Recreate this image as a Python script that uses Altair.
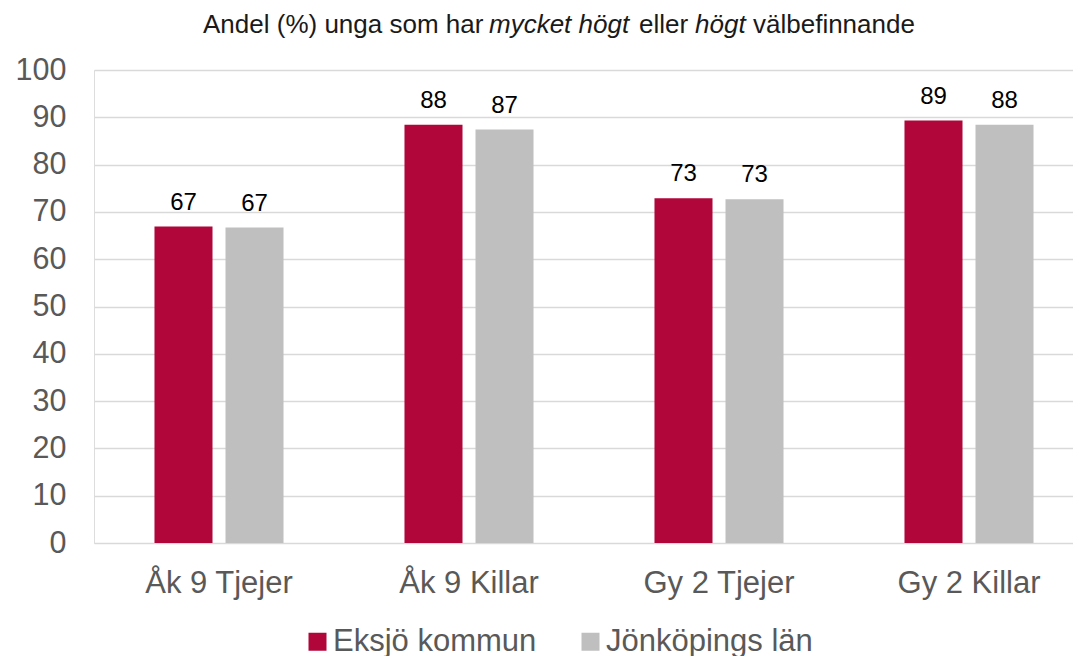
import altair as alt
import pandas as pd

# ---- data ----
categories = ["Åk 9 Tjejer", "Åk 9 Killar", "Gy 2 Tjejer", "Gy 2 Killar"]
series = ["Eksjö kommun", "Jönköpings län"]
eksjo = [66.9, 88.4, 72.9, 89.3]
jonkoping = [66.7, 87.4, 72.7, 88.4]
colors = ["#B0063A", "#BFBFBF"]
y_ticks = [0, 10, 20, 30, 40, 50, 60, 70, 80, 90, 100]

title_words = ["Andel (%) unga som har", "mycket högt", "eller", "högt", "välbefinnande"]
title_styles = ["normal", "italic", "normal", "italic", "normal"]
title_x = [109, 395, 545, 601, 659]

FONT = "Liberation Sans"

df = pd.DataFrame({
    "kategori": [c for c in categories for _ in series],
    "serie": series * len(categories),
    "varde": [v for pair in zip(eksjo, jonkoping) for v in pair],
})

x = alt.X(
    "kategori:N", sort=categories, title=None,
    scale=alt.Scale(paddingInner=0.168, paddingOuter=0.042, align=1),
    axis=alt.Axis(labelAngle=0, labelFont=FONT, labelFontSize=31, labelColor="#595959",
                  labelPadding=25, ticks=False, tickSize=0, domain=False, grid=False),
)
xo = alt.XOffset("serie:N", sort=series, scale=alt.Scale(paddingInner=0.183, paddingOuter=0.556))
y = alt.Y(
    "varde:Q", title=None,
    scale=alt.Scale(domain=[0, 100], nice=False),
    axis=alt.Axis(values=y_ticks, labelFont=FONT, labelFontSize=30.5, labelColor="#595959",
                  labelPadding=28, ticks=False, tickSize=0, domain=False,
                  gridColor="#d9d9d9", gridWidth=1.5),
)
color = alt.Color(
    "serie:N", sort=series,
    scale=alt.Scale(domain=series, range=colors),
    legend=alt.Legend(title=None, orient="none", legendX=208, legendY=556,
                      direction="horizontal", symbolType="square", symbolSize=324,
                      symbolStrokeWidth=0, labelFont=FONT, labelFontSize=31,
                      labelColor="#595959", labelOffset=0, columnPadding=38,
                      padding=0, labelLimit=500),
)

base = alt.Chart(df)
bars = base.mark_bar().encode(x=x, xOffset=xo, y=y, color=color)
labels = base.mark_text(dy=-17, baseline="alphabetic", font=FONT, fontSize=24, color="#000000").encode(
    x=x, xOffset=xo, y=y, text=alt.Text("varde:Q", format=".0f")
)

title_layers = []
for word, style, px in zip(title_words, title_styles, title_x):
    title_layers.append(
        alt.Chart(pd.DataFrame({"t": [word]})).mark_text(
            align="left", baseline="alphabetic", font=FONT, fontSize=26,
            fontStyle=style, color="#1a1a1a"
        ).encode(text="t:N", x=alt.value(px), y=alt.value(-37))
    )

chart = alt.layer(bars, labels, *title_layers).properties(
    width=979, height=473,
    autosize=alt.AutoSizeParams(type="none"),
    padding={"left": 86, "top": 62, "right": 0, "bottom": 115},
).configure_view(stroke=None).configure(background="white")

chart.save("out.html", embed_options={"renderer": "svg", "actions": False})
